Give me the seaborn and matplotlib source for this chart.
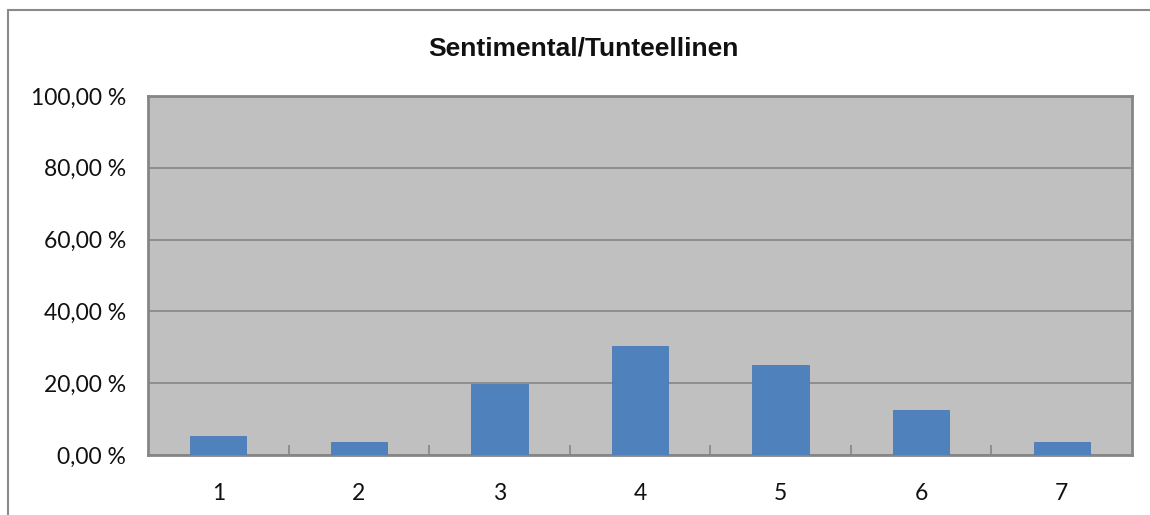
import matplotlib
matplotlib.use("Agg")
import matplotlib.pyplot as plt
import seaborn as sns
import pandas as pd
from matplotlib.ticker import FuncFormatter, FixedLocator
from matplotlib.patches import Rectangle

categories = ["1", "2", "3", "4", "5", "6", "7"]
shares = [5.36, 3.57, 19.64, 30.36, 25.00, 12.50, 3.57]
y_ticks = [0, 20, 40, 60, 80, 100]
title = "Sentimental/Tunteellinen"

sns.set_theme(style="white")
plt.rcParams["font.family"] = ["Lato", "DejaVu Sans"]

df = pd.DataFrame({"category": categories, "share": shares})

fig = plt.figure(figsize=(11.5, 5.15), dpi=100)
fig.patch.set_facecolor("white")

# outer chart frame
fig.patches.append(Rectangle((8 / 1150, -0.05), 1.2, 1 - 10 / 515 + 0.05,
                             transform=fig.transFigure, fill=False,
                             edgecolor="#8a8a8a", linewidth=1.5, zorder=0))

ax = fig.add_axes([148 / 1150, 1 - 455 / 515, (1132 - 148) / 1150, (455 - 96) / 515])
ax.set_facecolor("#c0c0c0")

sns.barplot(data=df, x="category", y="share", color="#4f81bd", width=0.4,
            saturation=1, ax=ax, zorder=3, edgecolor="#4a7ab5", linewidth=0.6)

ax.set_xlim(-0.5, len(categories) - 0.5)
ax.set_ylim(0, 100)
ax.set_yticks(y_ticks)
ax.yaxis.set_major_formatter(FuncFormatter(lambda v, _: f"{v:.2f}".replace(".", ",") + " %"))
ax.grid(axis="y", color="#868686", linewidth=1.2, zorder=1)
ax.set_axisbelow(True)

ax.xaxis.set_minor_locator(FixedLocator([i + 0.5 for i in range(len(categories) - 1)]))
ax.tick_params(axis="x", which="major", bottom=True, length=0, pad=20, labelsize=16.5,
               labelcolor="#111111")
ax.tick_params(axis="x", which="minor", bottom=True, length=7, direction="in",
               color="#868686", width=1.2)
ax.tick_params(axis="y", left=True, length=0, pad=16, labelsize=16.5, labelcolor="#111111")

for side in ["left", "right", "top", "bottom"]:
    ax.spines[side].set_visible(True)
    ax.spines[side].set_color("#868686")
    ax.spines[side].set_linewidth(2)

ax.set_xlabel("")
ax.set_ylabel("")

fig.text(583 / 1150, 1 - 48 / 515, title, ha="center", va="center",
         fontsize=19, fontweight="bold", family=["Liberation Sans", "DejaVu Sans"],
         color="#111111")

fig.savefig("out.png", dpi=100)
